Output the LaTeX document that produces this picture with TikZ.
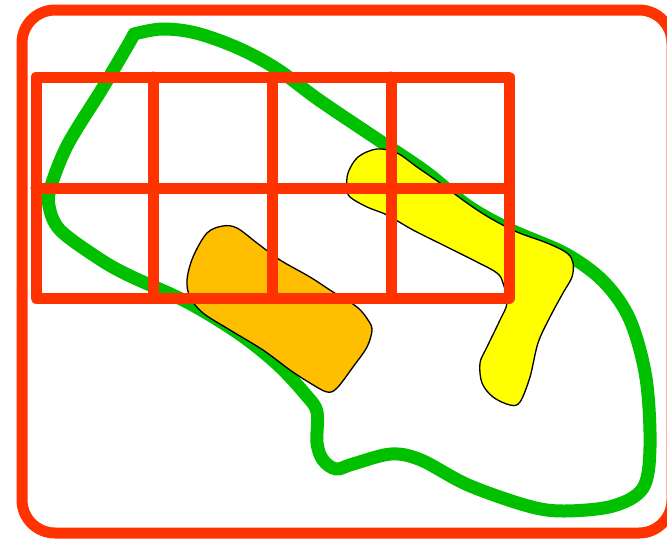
\documentclass[tikz,border=0pt]{standalone}
\usetikzlibrary{calc}
\definecolor{frame}{RGB}{255,51,0}
\definecolor{lgreen}{RGB}{0,192,0}
\definecolor{amber}{RGB}{255,191,0}
\definecolor{yel}{RGB}{255,255,0}
\tikzset{
  frameline/.style={draw=frame,line width=11pt,line join=round,line cap=round},
  gridline/.style={draw=frame,line width=11pt,line cap=round,line join=round},
  greenline/.style={draw=lgreen,line width=13pt,line join=round,line cap=round},
  blob/.style={draw=black,line width=1.3pt}
}
\begin{document}
\begin{tikzpicture}[x=1pt,y=-1pt]
\useasboundingbox (0,0) rectangle (667,539);
\begin{scope}
\clip (0,0) rectangle (667,539);
% green curve
\draw[greenline] plot[smooth,tension=0.55] coordinates {
 (134,34) (162,29) (196,33) (238,48) (277,69) (319,100) (374,137) (426,172)
 (468,206) (511,230) (566,254) (604,282) (630,320) (646,378) (650,447)
 (643,488) (613,506) (564,511) (528,506) (468,485) (421,460) (391,454)
 (353,464) (336,469) (323,460) (317,443) (317,412) (306,395) (277,364)
 (238,333) (187,302) (128,275) (98,258) (60,230) (49,206) (51,186)
 (68,144) (102,89) (128,45) (134,34)};
% yellow blob
\draw[blob,fill=yel] plot[smooth cycle,tension=0.55] coordinates {
 (377,149) (358,157) (348,173) (347,188) (350,197) (367,207) (387,215)
 (413,230) (443,245) (477,262) (497,273) (503,283) (507,303) (500,320)
 (487,347) (480,363) (482,383) (493,397) (510,405) (520,402) (530,377)
 (538,343) (550,317) (563,293) (572,277) (573,263) (567,253) (547,243)
 (517,232) (490,218) (467,203) (440,183) (417,167) (397,153)};
% orange blob
\draw[blob,fill=amber] plot[smooth cycle,tension=0.55] coordinates {
 (223,226) (207,233) (193,257) (187,280) (190,297) (203,313) (230,330)
 (263,350) (290,370) (310,383) (327,392) (337,388) (353,367) (367,347)
 (372,330) (368,320) (357,307) (333,292) (310,277) (280,260) (257,243)
 (237,228)};
% grid
\coordinate (g1) at (36,77);
\coordinate (g2) at (509,298);
\draw[gridline] (g1) rectangle (g2);
\draw[gridline] (36,188) -- (509,188);
\foreach \x in {153,272,391} \draw[gridline] (\x,77) -- (\x,298);
% outer frame
\draw[frameline,rounded corners=33pt] (22,10) rectangle (672,533);
\end{scope}
\end{tikzpicture}
\end{document}
